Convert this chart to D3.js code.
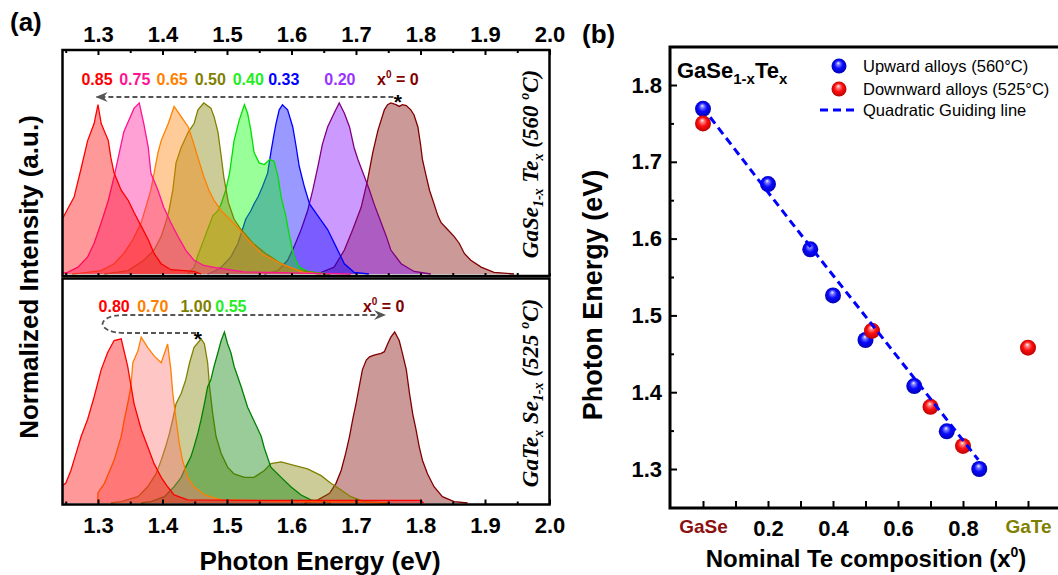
<!DOCTYPE html>
<html>
<head>
<meta charset="utf-8">
<script src="https://cdn.jsdelivr.net/npm/d3@7"></script>
<style>
  body { margin: 0; background: #fff; }
  svg { font-family: Arial, "Liberation Sans", sans-serif; }
</style>
</head>
<body>
<svg id="chart" width="1058" height="575"></svg>
<script>
// ---------- data: [photon energy (eV), normalized intensity] ----------
// (a) upper: GaSe1-xTex grown at 560 C
const upX000 = [[1.64,0],[1.666,0.04],[1.682,0.14],[1.695,0.26],[1.708,0.39],[1.718,0.55],[1.726,0.71],[1.734,0.84],[1.744,0.96],[1.749,0.99],[1.754,1.0],[1.762,0.99],[1.767,0.98],[1.772,0.99],[1.778,0.985],[1.785,0.96],[1.79,0.93],[1.796,0.86],[1.8,0.76],[1.803,0.67],[1.809,0.57],[1.814,0.49],[1.821,0.41],[1.827,0.34],[1.832,0.30],[1.842,0.26],[1.852,0.22],[1.86,0.18],[1.868,0.12],[1.878,0.08],[1.894,0.04],[1.914,0.01],[1.945,0]];
const upX020 = [[1.558,0],[1.579,0.02],[1.594,0.08],[1.604,0.16],[1.615,0.26],[1.625,0.37],[1.633,0.49],[1.641,0.63],[1.648,0.76],[1.656,0.86],[1.666,0.94],[1.674,1.0],[1.682,0.94],[1.69,0.86],[1.697,0.74],[1.703,0.67],[1.713,0.57],[1.721,0.49],[1.728,0.41],[1.739,0.30],[1.747,0.22],[1.754,0.14],[1.77,0.06],[1.79,0.015],[1.816,0]];
const upX033 = [[1.47,0],[1.48,0.015],[1.491,0.04],[1.506,0.10],[1.517,0.18],[1.524,0.26],[1.529,0.32],[1.537,0.37],[1.542,0.41],[1.548,0.45],[1.555,0.51],[1.563,0.59],[1.568,0.71],[1.573,0.82],[1.576,0.88],[1.581,0.96],[1.586,0.99],[1.594,0.96],[1.602,0.86],[1.607,0.75],[1.612,0.63],[1.62,0.51],[1.628,0.41],[1.641,0.34],[1.656,0.26],[1.669,0.16],[1.682,0.06],[1.697,0.01],[1.72,0]];
const upX040 = [[1.439,0],[1.449,0.04],[1.455,0.11],[1.46,0.16],[1.47,0.26],[1.478,0.34],[1.486,0.37],[1.491,0.41],[1.498,0.49],[1.504,0.59],[1.511,0.78],[1.519,0.9],[1.527,0.99],[1.532,0.94],[1.537,0.84],[1.542,0.71],[1.55,0.65],[1.558,0.64],[1.566,0.67],[1.573,0.66],[1.579,0.57],[1.584,0.45],[1.591,0.34],[1.597,0.22],[1.604,0.10],[1.612,0.04],[1.625,0.015],[1.646,0.005],[1.66,0]];
const upX050 = [[1.31,0],[1.32,0.005],[1.347,0.02],[1.371,0.08],[1.387,0.14],[1.398,0.22],[1.405,0.30],[1.41,0.37],[1.416,0.49],[1.421,0.65],[1.429,0.74],[1.44,0.83],[1.449,0.88],[1.455,0.96],[1.464,1.0],[1.475,0.97],[1.48,0.92],[1.486,0.83],[1.491,0.69],[1.495,0.57],[1.502,0.42],[1.511,0.32],[1.52,0.27],[1.54,0.18],[1.56,0.12],[1.58,0.07],[1.6,0.03],[1.64,0.005],[1.66,0]];
const upX065 = [[1.26,0],[1.274,0.005],[1.305,0.02],[1.325,0.06],[1.34,0.12],[1.354,0.2],[1.367,0.3],[1.382,0.49],[1.387,0.59],[1.393,0.71],[1.398,0.78],[1.409,0.88],[1.418,0.98],[1.429,0.92],[1.44,0.86],[1.447,0.78],[1.455,0.68],[1.464,0.57],[1.472,0.49],[1.48,0.43],[1.491,0.37],[1.502,0.33],[1.517,0.27],[1.533,0.2],[1.553,0.12],[1.584,0.06],[1.619,0.01],[1.646,0]];
const upX075 = [[1.245,0.005],[1.253,0.01],[1.269,0.04],[1.284,0.1],[1.294,0.18],[1.305,0.30],[1.316,0.43],[1.325,0.57],[1.34,0.83],[1.356,0.97],[1.364,1.0],[1.371,0.88],[1.378,0.74],[1.382,0.59],[1.393,0.49],[1.402,0.39],[1.413,0.3],[1.424,0.22],[1.436,0.14],[1.449,0.08],[1.464,0.05],[1.486,0.035],[1.526,0.012],[1.615,0.005],[1.692,0]];
const upX085 = [[1.235,0.30],[1.246,0.33],[1.253,0.38],[1.263,0.45],[1.274,0.62],[1.284,0.78],[1.294,0.88],[1.3,0.99],[1.305,0.88],[1.316,0.78],[1.32,0.68],[1.325,0.59],[1.336,0.49],[1.347,0.43],[1.356,0.36],[1.367,0.28],[1.378,0.2],[1.387,0.12],[1.398,0.06],[1.413,0.025],[1.449,0.015],[1.46,0]];

// (a) lower: GaTexSe1-x grown at 525 C
const dnX000 = [[1.62,0],[1.641,0.018],[1.659,0.057],[1.669,0.115],[1.677,0.19],[1.684,0.29],[1.69,0.39],[1.695,0.49],[1.7,0.58],[1.705,0.68],[1.71,0.78],[1.716,0.836],[1.721,0.855],[1.728,0.865],[1.739,0.875],[1.744,0.885],[1.749,0.93],[1.754,0.97],[1.76,1.0],[1.767,0.95],[1.772,0.875],[1.778,0.78],[1.783,0.64],[1.788,0.52],[1.793,0.43],[1.798,0.33],[1.803,0.25],[1.811,0.17],[1.821,0.095],[1.834,0.037],[1.852,0.008],[1.873,0]];
const dnX055 = [[1.367,0],[1.382,0.008],[1.403,0.037],[1.418,0.095],[1.429,0.15],[1.436,0.21],[1.444,0.27],[1.449,0.33],[1.455,0.41],[1.46,0.49],[1.465,0.58],[1.47,0.68],[1.475,0.72],[1.48,0.8],[1.486,0.88],[1.491,0.95],[1.496,1.0],[1.501,0.93],[1.506,0.88],[1.511,0.8],[1.522,0.68],[1.532,0.56],[1.542,0.48],[1.553,0.39],[1.558,0.32],[1.568,0.21],[1.584,0.15],[1.599,0.095],[1.615,0.047],[1.63,0.018],[1.661,0]];
const dnX100 = [[1.32,0],[1.336,0.008],[1.362,0.037],[1.377,0.095],[1.39,0.17],[1.398,0.25],[1.405,0.33],[1.411,0.41],[1.416,0.49],[1.421,0.58],[1.429,0.64],[1.436,0.72],[1.442,0.82],[1.449,0.91],[1.46,0.96],[1.465,0.93],[1.47,0.82],[1.473,0.68],[1.478,0.52],[1.483,0.39],[1.491,0.29],[1.501,0.21],[1.511,0.17],[1.527,0.15],[1.542,0.15],[1.558,0.19],[1.568,0.23],[1.584,0.24],[1.604,0.22],[1.625,0.2],[1.646,0.16],[1.661,0.115],[1.677,0.076],[1.692,0.037],[1.713,0.008],[1.75,0]];
const dnX070 = [[1.2995,0],[1.3,0.06],[1.31,0.115],[1.325,0.25],[1.336,0.39],[1.341,0.49],[1.346,0.58],[1.351,0.68],[1.354,0.82],[1.362,0.89],[1.367,0.97],[1.377,0.91],[1.387,0.86],[1.398,0.82],[1.408,0.93],[1.413,0.78],[1.416,0.64],[1.421,0.49],[1.426,0.35],[1.431,0.25],[1.439,0.15],[1.449,0.095],[1.465,0.047],[1.491,0.018],[1.6,0.01],[1.7,0.005],[1.75,0]];
const dnX080 = [[1.235,0.08],[1.25,0.115],[1.258,0.19],[1.266,0.29],[1.274,0.39],[1.284,0.49],[1.294,0.62],[1.305,0.78],[1.315,0.88],[1.325,0.95],[1.336,0.96],[1.341,0.88],[1.346,0.8],[1.356,0.58],[1.367,0.43],[1.377,0.33],[1.387,0.23],[1.398,0.15],[1.408,0.095],[1.418,0.047],[1.439,0.018],[1.55,0.015],[1.7,0.015],[1.8,0.015],[1.805,0]];

// composition labels and where they sit (eV)
const upLabels = ['0.85', '0.75', '0.65', '0.50', '0.40', '0.33', '0.20'];
const upLabelE = [1.2985, 1.357, 1.415, 1.474, 1.533, 1.588, 1.675, 1.765];
const dnLabels = ['0.80', '0.70', '1.00', '0.55'];
const dnLabelE = [1.325, 1.385, 1.452, 1.506, 1.743];

// (b) PL peak positions
const upwardX = [0, 0.2, 0.33, 0.4, 0.5, 0.65, 0.75, 0.85];
const upwardE = [1.769, 1.671, 1.586, 1.526, 1.468, 1.408, 1.349, 1.30];
const downwardX = [0, 0.52, 0.7, 0.8, 1.0];
const downwardE = [1.75, 1.48, 1.381, 1.33, 1.458];
const guideX = [0.022, 0.3, 0.55, 0.847];
const guideE = [1.758, 1.606, 1.472, 1.312];

const energyTicks = [1.3, 1.4, 1.5, 1.6, 1.7, 1.8, 1.9, 2.0];
const energyMinor = [1.25, 1.35, 1.45, 1.55, 1.65, 1.75, 1.85, 1.95];
const compTicks = [0, 0.2, 0.4, 0.6, 0.8, 1.0];
const compMinor = [0.1, 0.3, 0.5, 0.7, 0.9];
const peTicks = [1.3, 1.4, 1.5, 1.6, 1.7, 1.8];
const peMinor = [1.35, 1.45, 1.55, 1.65, 1.75, 1.85];

// ---------- setup ----------
const svg = d3.select('#chart');
const defs = svg.append('defs');

const frameA = {left: 62.5, right: 549.5, top: 50, mid1: 276, mid2: 278.5, bottom: 504.5};

const x = d3.scaleLinear().domain([1.245, 2.0]).range([frameA.left, frameA.right]);
const yUp = d3.scaleLinear().domain([0, 1]).range([274, 103]);
const yDn = d3.scaleLinear().domain([0, 1]).range([503, 332]);

defs.append('clipPath').attr('id', 'clipUp').append('rect')
    .attr('x', frameA.left).attr('y', frameA.top)
    .attr('width', frameA.right - frameA.left).attr('height', frameA.mid1 - frameA.top);
defs.append('clipPath').attr('id', 'clipDn').append('rect')
    .attr('x', frameA.left).attr('y', frameA.mid2)
    .attr('width', frameA.right - frameA.left).attr('height', frameA.bottom - frameA.mid2);

// arrow head for the dashed guide arrows
defs.append('marker')
    .attr('id', 'arrow')
    .attr('viewBox', '0 0 12 10')
    .attr('refX', 11).attr('refY', 5)
    .attr('markerWidth', 12).attr('markerHeight', 10)
    .attr('markerUnits', 'userSpaceOnUse')
    .attr('orient', 'auto')
  .append('path')
    .attr('d', 'M0,0 L12,5 L0,10 L4,5 Z')
    .attr('fill', '#555');

// shaded sphere gradients for panel (b)
function sphereGradient(id, light, mid, dark) {
  const g = defs.append('radialGradient').attr('id', id)
      .attr('cx', '50%').attr('cy', '50%').attr('r', '55%')
      .attr('fx', '45%').attr('fy', '30%');
  g.append('stop').attr('offset', '0%').attr('stop-color', '#ffffff');
  g.append('stop').attr('offset', '18%').attr('stop-color', light);
  g.append('stop').attr('offset', '50%').attr('stop-color', mid);
  g.append('stop').attr('offset', '100%').attr('stop-color', dark);
}
sphereGradient('gBlue', '#8080ff', '#0a0aff', '#0000a8');
sphereGradient('gRed', '#ff8a8a', '#ff1010', '#b00000');

// ---------- panel (a): spectra ----------
const upperSeries = [
  {data: upX000, stroke: '#800000', fill: '#800000'},
  {data: upX020, stroke: '#800080', fill: '#8000ff'},
  {data: upX033, stroke: '#0000ff', fill: '#0000ff'},
  {data: upX040, stroke: '#00e000', fill: '#00ff00'},
  {data: upX050, stroke: '#808000', fill: '#808000'},
  {data: upX065, stroke: '#ff8000', fill: '#ff8000'},
  {data: upX075, stroke: '#ff1493', fill: '#ff1493'},
  {data: upX085, stroke: '#ff0000', fill: '#ff0000'}
];
const lowerSeries = [
  {data: dnX000, stroke: '#800000', fill: '#800000'},
  {data: dnX100, stroke: '#808000', fill: '#808000'},
  {data: dnX055, stroke: '#008000', fill: '#008000'},
  {data: dnX070, stroke: '#ff8000', fill: '#ff7070'},
  {data: dnX080, stroke: '#ff0000', fill: '#ff0000'}
];

function drawSpectra(series, yScale, clipId) {
  const g = svg.append('g').attr('clip-path', `url(#${clipId})`);
  const area = d3.area()
      .x(d => x(d[0]))
      .y0(yScale(0))
      .y1(d => yScale(d[1]));
  const line = d3.line()
      .x(d => x(d[0]))
      .y(d => yScale(d[1]));
  series.forEach(s => {
    g.append('path')
        .attr('d', area(s.data))
        .attr('fill', s.fill)
        .attr('fill-opacity', 0.4);
    g.append('path')
        .attr('d', line(s.data))
        .attr('fill', 'none')
        .attr('stroke', s.stroke)
        .attr('stroke-width', 1.3);
  });
}
drawSpectra(upperSeries, yUp, 'clipUp');
drawSpectra(lowerSeries, yDn, 'clipDn');

// frames
svg.append('rect')
    .attr('x', frameA.left).attr('y', frameA.top)
    .attr('width', frameA.right - frameA.left).attr('height', frameA.mid1 - frameA.top)
    .attr('fill', 'none').attr('stroke', '#000').attr('stroke-width', 2.5);
svg.append('rect')
    .attr('x', frameA.left).attr('y', frameA.mid2)
    .attr('width', frameA.right - frameA.left).attr('height', frameA.bottom - frameA.mid2)
    .attr('fill', 'none').attr('stroke', '#000').attr('stroke-width', 2.5);

// axes of panel (a)
function styleAxis(g) {
  g.select('.domain').remove();
  g.selectAll('line').attr('stroke', '#000').attr('stroke-width', 2);
  g.selectAll('text')
      .attr('fill', '#000')
      .attr('font-size', 22)
      .attr('font-weight', 'bold')
      .attr('font-family', 'Arial, "Liberation Sans", sans-serif');
}

svg.append('g').attr('transform', `translate(0,${frameA.top})`)
    .call(d3.axisTop(x).tickValues(energyTicks).tickSize(-5).tickPadding(8).tickFormat(d3.format('.1f')))
    .call(styleAxis);
svg.append('g').attr('transform', `translate(0,${frameA.top})`)
    .call(d3.axisTop(x).tickValues(energyMinor).tickSize(-3).tickFormat(''))
    .call(styleAxis);
svg.append('g').attr('transform', `translate(0,${frameA.bottom})`)
    .call(d3.axisBottom(x).tickValues(energyTicks).tickSize(-5).tickPadding(13).tickFormat(d3.format('.1f')))
    .call(styleAxis);
svg.append('g').attr('transform', `translate(0,${frameA.bottom})`)
    .call(d3.axisBottom(x).tickValues(energyMinor).tickSize(-3).tickFormat(''))
    .call(styleAxis);
svg.append('g').attr('transform', `translate(0,${frameA.mid1})`)
    .call(d3.axisBottom(x).tickValues(energyTicks.concat(energyMinor)).tickSize(-3).tickFormat(''))
    .call(styleAxis);

// composition labels, upper
const upColors = ['#ff0000', '#ff1493', '#ff8000', '#808000', '#22ee22', '#0000ff', '#9933ff'];
svg.append('g').selectAll('text')
    .data(upLabels)
  .join('text')
    .attr('x', (d, i) => x(upLabelE[i]))
    .attr('y', 85)
    .attr('text-anchor', 'middle')
    .attr('font-size', 16)
    .attr('font-weight', 'bold')
    .attr('fill', (d, i) => upColors[i])
    .text(d => d);

const dnColors = ['#ff0000', '#ff8000', '#808000', '#22ee22'];
svg.append('g').selectAll('text')
    .data(dnLabels)
  .join('text')
    .attr('x', (d, i) => x(dnLabelE[i]))
    .attr('y', 312)
    .attr('text-anchor', 'middle')
    .attr('font-size', 16)
    .attr('font-weight', 'bold')
    .attr('fill', (d, i) => dnColors[i])
    .text(d => d);

function x0Label(e, yBase) {
  const t = svg.append('text')
      .attr('x', x(e)).attr('y', yBase)
      .attr('text-anchor', 'middle')
      .attr('font-size', 16).attr('font-weight', 'bold')
      .attr('fill', '#800000');
  t.append('tspan').text('x');
  t.append('tspan').attr('font-size', 10).attr('dy', -7).text('0');
  t.append('tspan').attr('dy', 7).text(' = 0');
}
x0Label(upLabelE[7], 85);
x0Label(dnLabelE[4], 312);

// dashed arrows and stars
svg.append('line')
    .attr('x1', x(1.758)).attr('y1', 97)
    .attr('x2', x(1.298)).attr('y2', 97)
    .attr('stroke', '#555').attr('stroke-width', 1.8)
    .attr('stroke-dasharray', '5,3')
    .attr('marker-end', 'url(#arrow)');

const xs = x(1.452), xl = x(1.342), xr = x(1.745);
svg.append('path')
    .attr('d', `M${xs},333 L${xl},333 C${xl - 30},333 ${xl - 30},315 ${xl},315 L${xr},315`)
    .attr('fill', 'none')
    .attr('stroke', '#555').attr('stroke-width', 1.8)
    .attr('stroke-dasharray', '5,3')
    .attr('marker-end', 'url(#arrow)');

svg.append('text').attr('x', x(1.765)).attr('y', 109)
    .attr('text-anchor', 'middle').attr('font-size', 21).attr('font-weight', 'bold')
    .text('*');
svg.append('text').attr('x', x(1.455)).attr('y', 346)
    .attr('text-anchor', 'middle').attr('font-size', 21).attr('font-weight', 'bold')
    .text('*');

// rotated sample labels
function sampleLabel(cy, parts) {
  const t = svg.append('text')
      .attr('transform', `translate(538,${cy}) rotate(-90)`)
      .attr('text-anchor', 'middle')
      .attr('font-family', '"Liberation Serif", "Times New Roman", serif')
      .attr('font-style', 'italic').attr('font-weight', 'bold')
      .attr('font-size', 23);
  parts.forEach(p => {
    t.append('tspan')
        .attr('font-size', p.small ? 14 : 23)
        .attr('dy', p.dy)
        .text(p.t);
  });
}
sampleLabel(164, [
  {t: 'GaSe', dy: 0}, {t: '1-x', small: true, dy: 5}, {t: ' Te', dy: -5},
  {t: 'x', small: true, dy: 5}, {t: ' (560 ', dy: -5}, {t: 'o', small: true, dy: -9}, {t: 'C)', dy: 9}
]);
sampleLabel(393, [
  {t: 'GaTe', dy: 0}, {t: 'x', small: true, dy: 5}, {t: ' Se', dy: -5},
  {t: '1-x', small: true, dy: 5}, {t: ' (525 ', dy: -5}, {t: 'o', small: true, dy: -9}, {t: 'C)', dy: 9}
]);

// titles panel (a)
svg.append('text').attr('x', 10).attr('y', 31)
    .attr('font-size', 26).attr('font-weight', 'bold').text('(a)');
svg.append('text')
    .attr('transform', 'translate(38,277) rotate(-90)')
    .attr('text-anchor', 'middle')
    .attr('font-size', 26).attr('font-weight', 'bold')
    .text('Normalized Intensity (a.u.)');
svg.append('text').attr('x', 320).attr('y', 570)
    .attr('text-anchor', 'middle')
    .attr('font-size', 26).attr('font-weight', 'bold')
    .text('Photon Energy (eV)');

// ---------- panel (b) ----------
const frameB = {left: 670, top: 47, bottom: 508};
const xb = d3.scaleLinear().domain([-0.1, 1.1]).range([670.5, 1060.5]);
const yb = d3.scaleLinear().domain([1.25, 1.85]).range([507.4, 46.6]);

svg.append('text').attr('x', 582).attr('y', 43)
    .attr('font-size', 26).attr('font-weight', 'bold').text('(b)');

svg.append('g').attr('transform', `translate(${frameB.left},0)`)
    .call(d3.axisLeft(yb).tickValues(peTicks).tickSize(-7).tickPadding(8).tickFormat(d3.format('.1f')))
    .call(styleAxis);
svg.append('g').attr('transform', `translate(${frameB.left},0)`)
    .call(d3.axisLeft(yb).tickValues(peMinor).tickSize(-4).tickFormat(''))
    .call(styleAxis);

const compFormat = d => d === 0 ? 'GaSe' : (d === 1 ? 'GaTe' : d3.format('.1f')(d));
const gBottom = svg.append('g').attr('transform', `translate(0,${frameB.bottom})`);
gBottom.call(d3.axisBottom(xb).tickValues(compTicks).tickSize(-7).tickPadding(12).tickFormat(compFormat))
    .call(styleAxis);
gBottom.selectAll('text')
    .attr('font-size', d => (d === 0 || d === 1) ? 19 : 22)
    .attr('fill', d => d === 0 ? '#8b1010' : (d === 1 ? '#808000' : '#000'));
svg.append('g').attr('transform', `translate(0,${frameB.bottom})`)
    .call(d3.axisBottom(xb).tickValues(compMinor).tickSize(-7).tickFormat(''))
    .call(styleAxis);

svg.append('path')
    .attr('d', `M1070,${frameB.top} H${frameB.left} V${frameB.bottom} H1070`)
    .attr('fill', 'none').attr('stroke', '#000').attr('stroke-width', 3);

// points
svg.append('g').selectAll('circle')
    .data(upwardX)
  .join('circle')
    .attr('cx', d => xb(d))
    .attr('cy', (d, i) => yb(upwardE[i]))
    .attr('r', 8)
    .attr('fill', 'url(#gBlue)');
svg.append('g').selectAll('circle')
    .data(downwardX)
  .join('circle')
    .attr('cx', d => xb(d))
    .attr('cy', (d, i) => yb(downwardE[i]))
    .attr('r', 8)
    .attr('fill', 'url(#gRed)');

// quadratic guiding line
const guideLine = d3.line()
    .x(d => xb(d))
    .y((d, i) => yb(guideE[i]))
    .curve(d3.curveNatural);
svg.append('path')
    .attr('d', guideLine(guideX))
    .attr('fill', 'none')
    .attr('stroke', '#0000ff')
    .attr('stroke-width', 3)
    .attr('stroke-dasharray', '8,5');

// formula label
const f = svg.append('text').attr('x', 677).attr('y', 78)
    .attr('font-size', 22).attr('font-weight', 'bold');
f.append('tspan').text('GaSe');
f.append('tspan').attr('font-size', 15).attr('dy', 6).text('1-x');
f.append('tspan').attr('dy', -6).text('Te');
f.append('tspan').attr('font-size', 15).attr('dy', 6).text('x');

// legend
const legend = svg.append('g');
legend.append('circle').attr('cx', 839).attr('cy', 66).attr('r', 7.5).attr('fill', 'url(#gBlue)');
legend.append('circle').attr('cx', 839).attr('cy', 89).attr('r', 7.5).attr('fill', 'url(#gRed)');
legend.append('line').attr('x1', 820).attr('x2', 856).attr('y1', 110).attr('y2', 110)
    .attr('stroke', '#0000ff').attr('stroke-width', 3).attr('stroke-dasharray', '8,5');
const legendText = ['Upward alloys (560°C)', 'Downward alloys (525°C)', 'Quadratic Guiding line'];
const legendY = [66, 89, 110];
legend.selectAll('text')
    .data(legendText)
  .join('text')
    .attr('x', 863)
    .attr('y', (d, i) => legendY[i])
    .attr('dy', '0.35em')
    .attr('font-size', 16.5)
    .text(d => d);

// axis titles panel (b)
svg.append('text')
    .attr('transform', 'translate(602,295) rotate(-90)')
    .attr('text-anchor', 'middle')
    .attr('font-size', 27).attr('font-weight', 'bold')
    .text('Photon Energy (eV)');
const xt = svg.append('text').attr('x', 866).attr('y', 567)
    .attr('text-anchor', 'middle')
    .attr('font-size', 24).attr('font-weight', 'bold');
xt.append('tspan').text('Nominal Te composition (x');
xt.append('tspan').attr('font-size', 14).attr('dy', -10).text('0');
xt.append('tspan').attr('dy', 10).text(')');
</script>
</body>
</html>
